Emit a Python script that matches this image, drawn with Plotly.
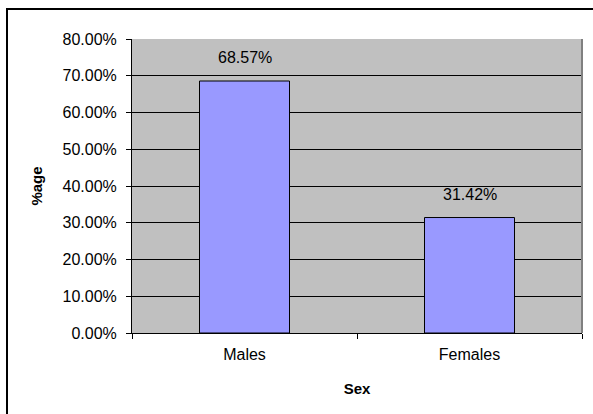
import plotly.graph_objects as go

categories = ["Males", "Females"]
values = [0.6857, 0.3142]
labels = ["68.57%", "31.42%"]

W, H = 593, 414
L, R, T, B = 132, 11, 39, 81
pw, ph = W - L - R, H - T - B

def px_x(px):
    return (px - L) / pw

def px_y(py):
    return (H - B - py) / ph

font_family = "Liberation Sans, Arial, sans-serif"

fig = go.Figure()
fig.add_trace(go.Bar(
    x=categories, y=values, width=0.4,
    marker=dict(color="#9999FF", line=dict(color="black", width=1)),
    hoverinfo="skip",
))

for c, v, t in zip(categories, values, labels):
    fig.add_annotation(x=c, y=v, text=t, showarrow=False, yanchor="bottom",
                       yshift=13, font=dict(family=font_family, size=16, color="black"))

fig.update_layout(
    width=W, height=H,
    margin=dict(l=L, r=R, t=T, b=B, pad=0),
    paper_bgcolor="white",
    plot_bgcolor="#C0C0C0",
    showlegend=False,
    font=dict(family=font_family, size=16, color="black"),
    bargap=0.6,
)

fig.update_xaxes(
    type="category",
    showline=True, linecolor="black", linewidth=1,
    ticks="outside", tickson="boundaries", ticklen=5, tickcolor="black",
    showgrid=False,
    tickfont=dict(size=16), ticklabelstandoff=7,
    title=dict(text="<b>Sex</b>", font=dict(size=15), standoff=21),
)
fig.update_yaxes(
    range=[0, 0.8], dtick=0.1, tickformat=".2%",
    showline=True, linecolor="black", linewidth=1,
    ticks="outside", ticklen=5, tickcolor="black",
    showgrid=True, gridcolor="black", gridwidth=1,
    zeroline=False,
    tickfont=dict(size=16), ticklabelstandoff=6,
    title=dict(text="<b>%age</b>", font=dict(size=15), standoff=16),
)

# plot area right edge in gray
fig.add_shape(type="line", xref="paper", yref="paper", x0=1, x1=1, y0=0, y1=1,
              line=dict(color="#808080", width=2), layer="above")
# outer chart frame (extends beyond right/bottom of the picture)
fig.add_shape(type="rect", xref="paper", yref="paper",
              x0=px_x(7), x1=px_x(600), y0=px_y(421), y1=px_y(9),
              line=dict(color="black", width=2), fillcolor="rgba(0,0,0,0)", layer="above")

fig.write_html("out.html")
